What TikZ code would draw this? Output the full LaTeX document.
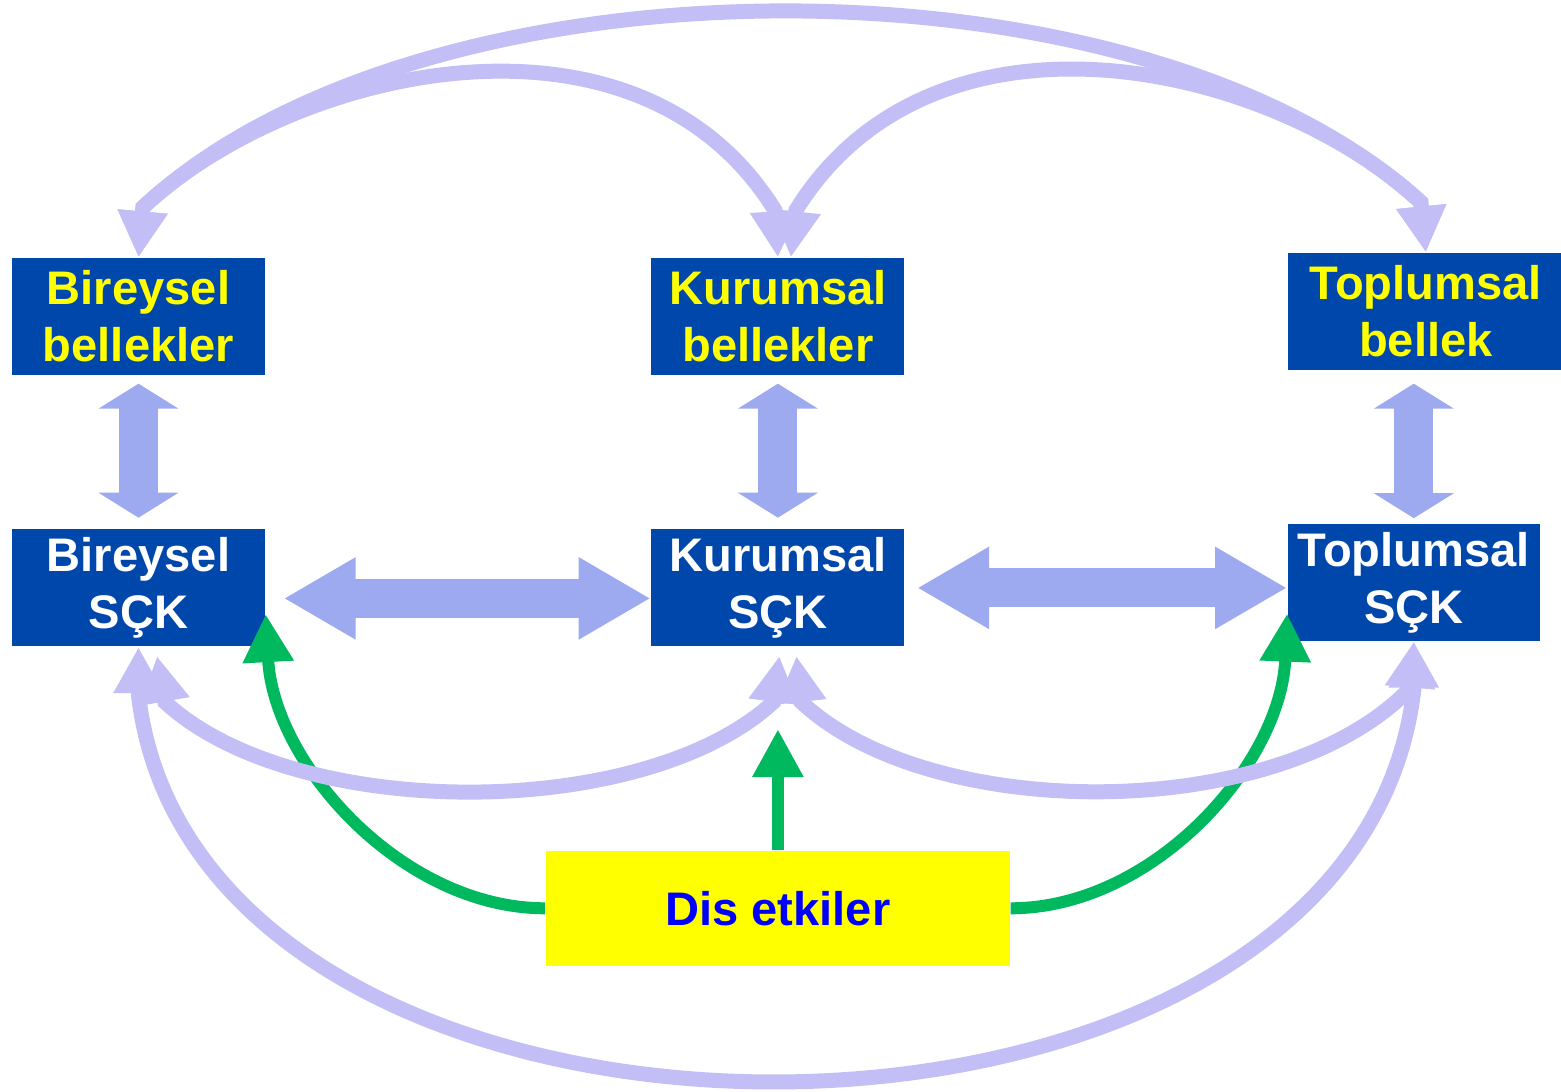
\documentclass[tikz,border=0pt]{standalone}
\usepackage{fontspec}
\setmainfont{Liberation Sans}
\usetikzlibrary{arrows.meta,positioning}

\definecolor{koyu}{RGB}{0,71,171}
\definecolor{lila}{RGB}{195,190,245}
\definecolor{kalinmavi}{RGB}{157,170,240}
\definecolor{yesil}{RGB}{0,185,95}
\definecolor{sari}{RGB}{255,255,0}

\begin{document}
\begin{tikzpicture}[
    blok/.style={fill=koyu,minimum width=2.53cm,minimum height=1.17cm,inner sep=0pt,
                 align=center,font=\fontsize{13.4}{16.2}\selectfont\bfseries},
    etki/.style={fill=sari,text=blue,minimum width=4.64cm,minimum height=1.15cm,inner sep=0pt,
                 font=\fontsize{13.4}{16.2}\selectfont\bfseries},
    bag/.style={<->,>={Triangle[width=0.47cm,length=0.46cm]},line width=0.15cm,draw=lila},
    dis/.style={->,>={Triangle[width=0.48cm,length=0.48cm]},line width=0.12cm,draw=yesil},
    kalin/.style={<->,line width=0.39cm,draw=kalinmavi},
    dik/.style={kalin,>={Triangle[width=0.79cm,length=0.25cm]}},
    yatay/.style={kalin,>={Triangle[width=0.77cm,length=0.72cm]}}]
  \useasboundingbox (0,0) rectangle (15.61,-10.92);

  \node[blok,text=sari] (bb) at (1.385,-3.165) {Bireysel\\bellekler};
  \node[blok,text=sari] (kb) [right=3.85cm of bb] {Kurumsal\\bellekler};
  \node[blok,text=sari,minimum width=2.76cm] (tb) [right=3.82cm of kb,yshift=0.05cm] {Toplumsal\\bellek};
  \node[blok,text=white] (bs) [below=1.53cm of bb] {Bireysel\\SÇK};
  \node[blok,text=white] (ks) [below=1.53cm of kb] {Kurumsal\\SÇK};
  \node[blok,text=white,minimum width=2.52cm] (ts) [right=3.82cm of ks,yshift=0.055cm] {Toplumsal\\SÇK};
  \node[etki] (de) [below=2.03cm of ks] {Dis etkiler};

  \draw[dis] (de.west) .. controls +(-1.43,0) and +(0.08,-1.5) .. ([yshift=0.33cm]bs.south east);
  \draw[dis,shorten >=0.82cm] (de.north) -- (ks.south);
  \draw[dis] (de.east) .. controls +(1.43,0) and +(-0.06,-1.5) .. ([yshift=0.28cm]ts.south west);

  \draw[bag] (bb.north) -- ++(0.045,0.5) .. controls +(2.8,2.61) and +(-2.8,2.56)
        .. ([xshift=-0.05cm,yshift=0.5cm]tb.north) -- (tb.north);
  \draw[bag] (bb.north) -- ++(0.045,0.5) .. controls +(1.5,1.4) and +(-1.38,2.23)
        .. ([xshift=-0.03cm,yshift=0.47cm]kb.north) -- (kb.north);
  \draw[bag] ([xshift=0.13cm]kb.north) -- ++(0.05,0.47) .. controls +(1.38,2.23) and +(-1.5,1.4)
        .. ([xshift=-0.05cm,yshift=0.5cm]tb.north) -- (tb.north);
  \draw[bag] (bs.south) -- ++(0,-0.48) .. controls +(0.6,-5.17) and +(-0.6,-5.22)
        .. ([yshift=-0.48cm]ts.south) -- (ts.south);
  \draw[bag] ([xshift=0.185cm,yshift=-0.09cm]bs.south) -- ++(0.08,-0.46) .. controls +(1.3,-1.2) and +(-1.3,-1.2)
        .. ([xshift=-0.045cm,yshift=-0.55cm]ks.south) -- ([xshift=0.015cm,yshift=-0.09cm]ks.south);
  \draw[bag] ([xshift=0.185cm,yshift=-0.09cm]ks.south) -- ++(0.05,-0.46) .. controls +(1.3,-1.22) and +(-1.3,-1.35)
        .. ([xshift=-0.04cm,yshift=-0.47cm]ts.south) -- (ts.south);

  \path (bb) edge[dik,shorten <=0.08cm,shorten >=0.11cm] (bs)
        (kb) edge[dik,shorten <=0.08cm,shorten >=0.11cm] (ks)
        (ts.north |- tb.south) edge[dik,shorten <=0.13cm,shorten >=0.05cm] (ts.north);
  \path ([yshift=-0.105cm]bs.east) edge[yatay,shorten <=0.18cm] ([yshift=-0.105cm]ks.west)
        (ks.east) edge[yatay,shorten <=0.12cm] (ks.east -| ts.west);
\end{tikzpicture}
\end{document}
